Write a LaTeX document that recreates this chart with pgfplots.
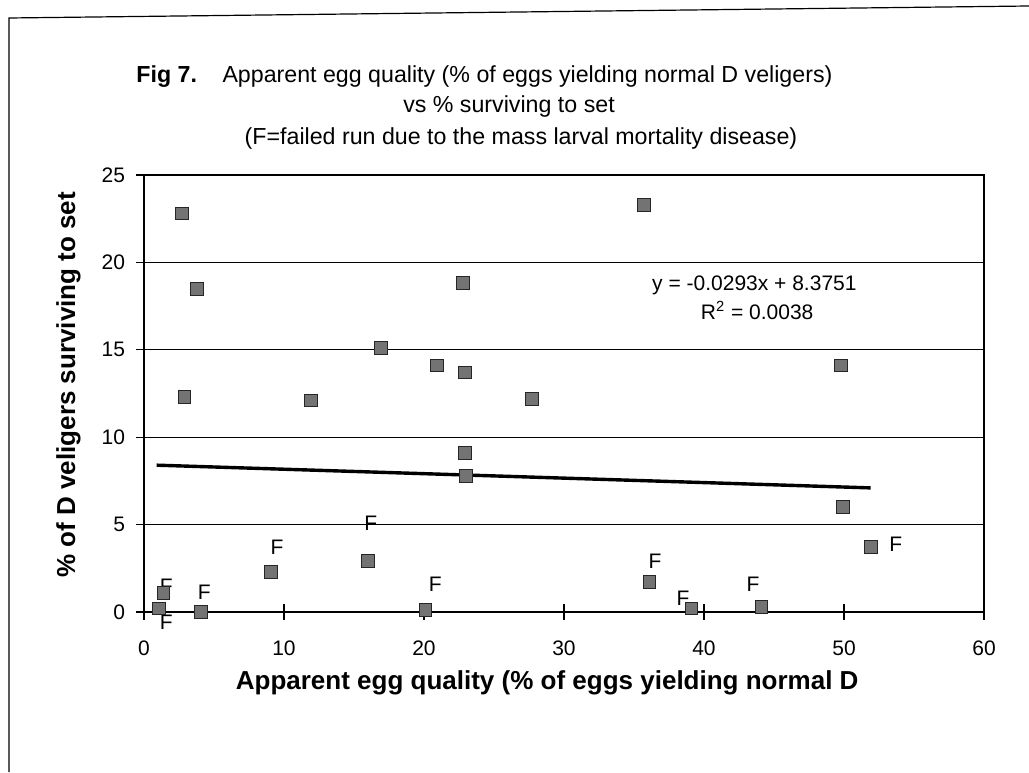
\documentclass[border=0pt]{standalone}
\usepackage{pgfplots}
\pgfplotsset{compat=1.18}
\usepackage{fontspec}
\setmainfont{Liberation Sans}

\begin{document}
\begin{tikzpicture}[x=0.5pt,y=0.5pt]
  \path[use as bounding box] (0,0) rectangle (1029,772);
  % page frame of the scan
  \draw[line width=0.6pt] (9,0) -- (9,754) -- (1029,766);

  \begin{axis}[
      at={(72pt,80pt)}, anchor=south west,
      width=420pt, height=218.5pt, scale only axis,
      xmin=0, xmax=60, ymin=0, ymax=25,
      xtick={0,10,...,60}, ytick={0,5,...,25},
      xtick pos=bottom, ytick pos=left,
      ymajorgrids, grid style={black, line width=0.5pt},
      axis line style={black, line width=0.6pt},
      tick align=center, major tick length=8pt,
      tick style={black, line width=0.6pt},
      /pgf/number format/assume math mode=true,
      ticklabel style={font=\fontsize{10.5}{12}\selectfont},
      xticklabel style={yshift=-7pt},
      yticklabel style={xshift=-2pt},
      xlabel={\textbf{Apparent egg quality (\% of eggs yielding normal D}},
      ylabel={\textbf{\% of D veligers surviving to set}},
      label style={font=\fontsize{13}{15}\selectfont},
      xlabel style={at={(axis description cs:0.48,-0.162)}, anchor=center},
      ylabel style={at={(axis description cs:-0.09,0.52)}, anchor=center},
      clip=false
  ]
    \addplot[only marks, mark=square*, mark size=3.2pt,
             mark options={fill=black!55, draw=black!85, line width=0.5pt}]
      coordinates {
        (2.7,22.8) (3.8,18.5) (2.9,12.3) (11.9,12.1) (16.9,15.1)
        (20.9,14.1) (22.9,13.7) (22.8,18.8) (22.9,9.1) (23.0,7.8)
        (9.1,2.3) (16.0,2.9) (20.1,0.1) (4.1,0.0) (1.4,1.1) (1.1,0.2)
        (35.7,23.3) (49.8,14.1) (27.7,12.2) (49.9,6.0) (51.9,3.7)
        (36.1,1.7) (39.1,0.2) (44.1,0.3)
      };
    % linear trend line
    \addplot[black, line width=1.7pt] coordinates {(0.9,8.4) (51.9,7.1)};

    \node[font=\fontsize{10.5}{12}\selectfont] at (axis cs:43.6,18.7) {y = -0.0293x + 8.3751};
    \node[font=\fontsize{10.5}{12}\selectfont] at (axis cs:43.8,17.25) {R\textsuperscript{2} = 0.0038};

    % F = failed runs
    \begin{scope}[every node/.style={font=\fontsize{10.5}{12}\selectfont, inner sep=0pt}]
      \node at (axis cs:9.5,3.7) {F};
      \node at (axis cs:16.2,5.1) {F};
      \node at (axis cs:20.8,1.6) {F};
      \node at (axis cs:4.3,1.1) {F};
      \node at (axis cs:1.6,1.5) {F};
      \node at (axis cs:1.6,-0.6) {F};
      \node at (axis cs:36.5,2.9) {F};
      \node at (axis cs:38.5,0.8) {F};
      \node at (axis cs:43.5,1.6) {F};
      \node at (axis cs:53.7,3.9) {F};
    \end{scope}
  \end{axis}

  % title, three lines
  \begin{scope}[every node/.style={font=\fontsize{11.6}{14}\selectfont, inner sep=0pt}]
    \node[anchor=base west] at (136,689) {\textbf{Fig 7.}\hspace{1.1em}Apparent egg quality (\% of eggs yielding normal D veligers)};
    \node[anchor=base] at (509,659) {vs \% surviving to set};
    \node[anchor=base] at (521,627) {(F=failed run due to the mass larval mortality disease)};
  \end{scope}
\end{tikzpicture}
\end{document}
